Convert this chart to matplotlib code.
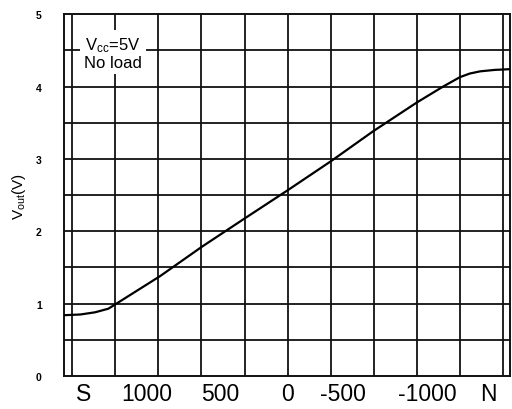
import matplotlib
matplotlib.use("Agg")
import matplotlib.pyplot as plt
import numpy as np

plt.rcParams['font.family'] = ['Liberation Sans', 'DejaVu Sans']
plt.rcParams['mathtext.fontset'] = 'custom'
plt.rcParams['mathtext.rm'] = 'Liberation Sans'
plt.rcParams['mathtext.it'] = 'Liberation Sans'

# position along the field axis in grid units (S side = 0, N side = 10)
pos = [-0.19, 0.19, 0.53, 0.84, 1.0, 2.04, 3.02, 4.01, 5.01, 6.01, 6.98, 8.0,
       8.61, 9.0, 9.23, 9.47, 9.81, 10.16]
vout = [0.84, 0.85, 0.88, 0.93, 0.99, 1.38, 1.79, 2.18, 2.57, 2.97, 3.38, 3.78,
        4.0, 4.13, 4.18, 4.21, 4.23, 4.24]

xtick_pos = [0.26, 1.74, 3.43, 4.99, 6.29, 8.24, 9.65]
xtick_labels = ['S', '1000', '500', '0', '-500', '-1000', 'N']
ytick_pos = [0, 1, 2, 3, 4, 5]

fig = plt.figure(figsize=(5.12, 4.10), dpi=100)
ax = fig.add_axes([0.125, 0.0805, 0.871, 0.8825])

for g in range(11):
    ax.axvline(g, color='#111111', lw=1.3, zorder=1)
for h in np.arange(0.5, 5, 0.5):
    ax.axhline(h, color='#111111', lw=1.3, zorder=1)

ax.plot(pos, vout, color='black', lw=1.6, zorder=3)

ax.set_xlim(-0.19, 10.16)
ax.set_ylim(0, 5)
for s in ax.spines.values():
    s.set_linewidth(1.4)
    s.set_color('#111111')

ax.set_xticks(xtick_pos)
ax.set_xticklabels(xtick_labels, fontsize=16.5)
ax.set_yticks(ytick_pos)
ax.set_yticklabels([str(v) for v in ytick_pos], fontsize=7.5, fontweight='bold')
ax.tick_params(axis='x', length=0, pad=4)
ax.tick_params(axis='y', length=0, pad=16)
ax.set_ylabel(r'V$_{\mathrm{out}}$(V)', fontsize=11, labelpad=6)

ax.text(0.95, 4.47, 'V$_{\\mathrm{cc}}$=5V\nNo load', fontsize=12, ha='center',
        va='center', linespacing=1.05, zorder=4,
        bbox=dict(facecolor='white', edgecolor='none', pad=3))

fig.savefig('out.png', dpi=100)
